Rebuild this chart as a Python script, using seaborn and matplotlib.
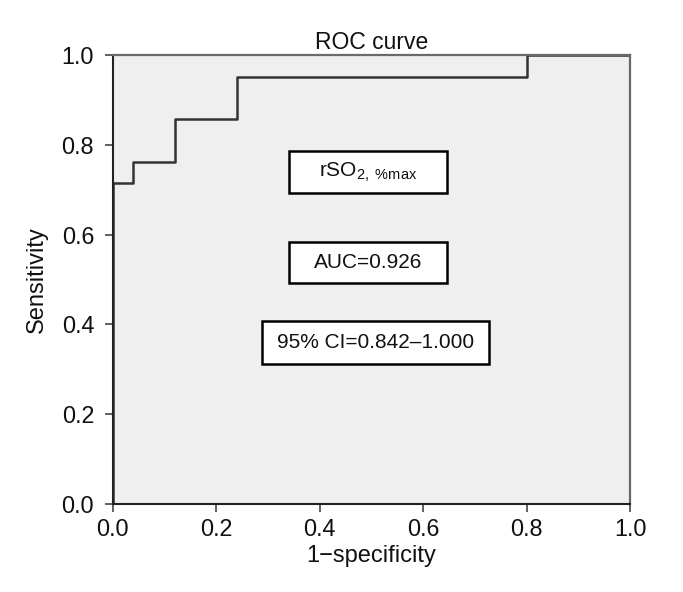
import matplotlib
matplotlib.use("Agg")
import matplotlib.pyplot as plt
import seaborn as sns
import pandas as pd
from matplotlib.patches import Rectangle

# ROC step curve (1-specificity, sensitivity)
fpr = [0.0, 0.0, 0.04, 0.04, 0.12, 0.12, 0.24, 0.24, 0.80, 0.80, 1.0]
tpr = [0.0, 0.714, 0.714, 0.762, 0.762, 0.857, 0.857, 0.952, 0.952, 1.0, 1.0]
ticks = [0.0, 0.2, 0.4, 0.6, 0.8, 1.0]
tick_labels = ["0.0", "0.2", "0.4", "0.6", "0.8", "1.0"]
box_texts = [r"rSO$_{2,\ \mathregular{\%max}}$", "AUC=0.926", "95% CI=0.842\u20131.000"]

sns.set_style("white")
plt.rcParams['font.family'] = ['Liberation Sans', 'DejaVu Sans']
plt.rcParams['mathtext.fontset'] = 'custom'
plt.rcParams['mathtext.rm'] = 'Liberation Sans'
plt.rcParams['mathtext.it'] = 'Liberation Sans'

fig = plt.figure(figsize=(6.83, 5.92), dpi=100)
ax = fig.add_axes([112.5 / 683, 1 - 504 / 592, (630 - 112.5) / 683, (504 - 55) / 592])
ax.set_facecolor("#efefef")

df = pd.DataFrame({"fpr": fpr, "tpr": tpr})
sns.lineplot(data=df, x="fpr", y="tpr", sort=False, estimator=None, color="#333333",
             lw=1.8, ax=ax)

ax.set_xlim(0, 1)
ax.set_ylim(0, 1)
ax.set_xticks(ticks)
ax.set_xticklabels(tick_labels)
ax.set_yticks(ticks)
ax.set_yticklabels(tick_labels)
ax.tick_params(axis="both", direction="out", length=5.8, width=1.2, color="#444444",
               labelsize=16.8, bottom=True, left=True, labelcolor="#111111")
ax.tick_params(axis="x", pad=4.5)
ax.tick_params(axis="y", pad=7.5)
for side in ["left", "bottom"]:
    ax.spines[side].set_color("#222222")
    ax.spines[side].set_linewidth(1.5)
for side in ["top", "right"]:
    ax.spines[side].set_color("#6a6a6a")
    ax.spines[side].set_linewidth(1.6)

ax.set_xlabel("1\u2212specificity", fontsize=17, labelpad=2.5, color="#111111")
ax.set_ylabel("Sensitivity", fontsize=17, labelpad=10, color="#111111")
ax.set_title("ROC curve", fontsize=16.5, pad=4, color="#111111")

# annotation boxes (axes coordinates)
boxes = [
    (0.341, 0.693, 0.305, 0.093),
    (0.341, 0.4916, 0.305, 0.0924),
    (0.289, 0.3118, 0.438, 0.0962),
]
for (x0, y0, w, h), txt in zip(boxes, box_texts):
    ax.add_patch(Rectangle((x0, y0), w, h, transform=ax.transAxes, facecolor="white",
                           edgecolor="black", lw=1.8, zorder=3))
    ax.text(x0 + w / 2, y0 + h / 2, txt, transform=ax.transAxes, ha="center", va="center",
            fontsize=15, zorder=4, color="#111111")

fig.savefig("out.png", dpi=100)
